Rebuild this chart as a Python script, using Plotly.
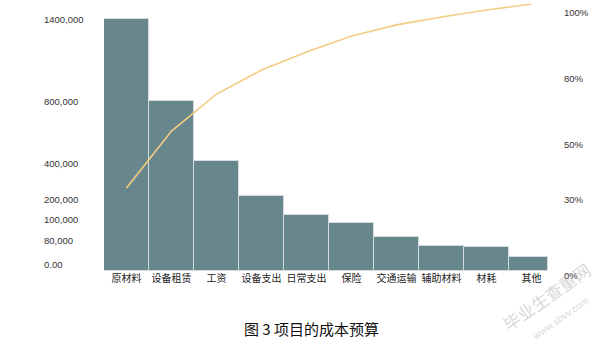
import numpy as np
import plotly.graph_objects as go

# Cost items and their budget amounts
categories = ["原材料", "设备租赁", "工资", "设备支出", "日常支出", "保险", "交通运输", "辅助材料", "材耗", "其他"]
amounts = [1400000, 800000, 410000, 215000, 120000, 96000, 83000, 64000, 62000, 36000]
cumulative_pct = [34.0, 55.9, 72.7, 82.4, 87.9, 92.7, 96.1, 98.5, 100.6, 102.4]

# Left axis: uneven tick scale (value -> drawing height)
money_ticks = [0, 80000, 100000, 200000, 400000, 800000, 1400000]
money_labels = ["0.00", "80,000", "100,000", "200,000", "400,000", "800,000", "1400,000"]
money_pos = [0, 31, 52, 72, 108, 170, 252]

# Right axis: uneven percent scale
pct_ticks = [0, 30, 50, 80, 100]
pct_labels = ["0%", "30%", "50%", "80%", "100%"]
pct_pos = [0, 72, 127, 193, 259]


def to_display(values, ticks, pos):
    v = np.asarray(values, dtype=float)
    out = np.interp(v, ticks, pos)
    hi = v > ticks[-1]
    slope = (pos[-1] - pos[-2]) / (ticks[-1] - ticks[-2])
    out[hi] = pos[-1] + (v[hi] - ticks[-1]) * slope
    return out


bar_h = to_display(amounts, money_ticks, money_pos)
line_h = to_display(cumulative_pct, pct_ticks, pct_pos)

x = list(range(len(categories)))
widths = [1.0] * (len(categories) - 1) + [0.87]
offsets = [-0.5] * len(categories)

fig = go.Figure()
fig.add_trace(go.Bar(
    x=x, y=bar_h, width=widths, offset=offsets,
    marker=dict(color="#67878c", line=dict(color="#d3dcde", width=1)),
    hoverinfo="skip",
))
fig.add_trace(go.Scatter(
    x=x, y=line_h, mode="lines",
    line=dict(color="#f5cc84", width=1.6),
    hoverinfo="skip",
))

PLOT_L, PLOT_W, PLOT_H, PLOT_BOTTOM = 104, 450, 267, 271


def px_x(px):
    return (px - PLOT_L) / PLOT_W


def px_y(py):
    return (PLOT_BOTTOM - py) / PLOT_H


annotations = []
for lab, val in zip(money_labels, money_ticks):
    yv = float(to_display([val], money_ticks, money_pos)[0])
    annotations.append(dict(
        x=px_x(42), xref="paper", y=yv, yref="y",
        text=lab, showarrow=False, xanchor="left", yanchor="middle",
        yshift=7 if val == 0 else 0,
        font=dict(family="Liberation Sans, Arial", size=9.5, color="#333333"),
    ))
for lab, val in zip(pct_labels, pct_ticks):
    yv = float(to_display([val], pct_ticks, pct_pos)[0])
    annotations.append(dict(
        x=px_x(562), xref="paper", y=yv, yref="y",
        text=lab, showarrow=False, xanchor="left", yanchor="middle",
        yshift=-4 if val == 0 else 0,
        font=dict(family="Liberation Sans, Arial", size=9.5, color="#333333"),
    ))

# Caption
annotations.append(dict(
    x=px_x(311), xref="paper", y=px_y(328), yref="paper",
    xanchor="center", yanchor="middle",
    text="图 3 项目的成本预算", showarrow=False,
    font=dict(family="Noto Sans CJK SC", size=15, color="#111111"),
))

# Site watermark
annotations.append(dict(
    x=px_x(546), xref="paper", y=px_y(296), yref="paper",
    xanchor="center", yanchor="middle",
    text="毕业生查重网", textangle=-35, showarrow=False,
    font=dict(family="Noto Sans CJK SC", size=17, color="rgba(165,165,165,0.45)"),
))
annotations.append(dict(
    x=px_x(560), xref="paper", y=px_y(318), yref="paper",
    xanchor="center", yanchor="middle",
    text="www.sbvv.com", textangle=-35, showarrow=False,
    font=dict(family="Liberation Sans", size=10, color="rgba(165,165,165,0.45)"),
))

fig.update_layout(
    width=610, height=346,
    margin=dict(l=PLOT_L, r=610 - PLOT_L - PLOT_W, t=4, b=346 - PLOT_BOTTOM, pad=0),
    paper_bgcolor="white", plot_bgcolor="white",
    showlegend=False, bargap=0,
    xaxis=dict(
        range=[-0.5, 9.5], tickmode="array", tickvals=x, ticktext=categories,
        showgrid=False, zeroline=False, showline=False, ticks="",
        tickfont=dict(family="Noto Sans CJK SC", size=10, color="#222222"),
    ),
    yaxis=dict(range=[0, PLOT_H], showgrid=False, zeroline=False, showline=False,
               showticklabels=False, ticks=""),
    annotations=annotations,
)

fig.write_html("out.html")
